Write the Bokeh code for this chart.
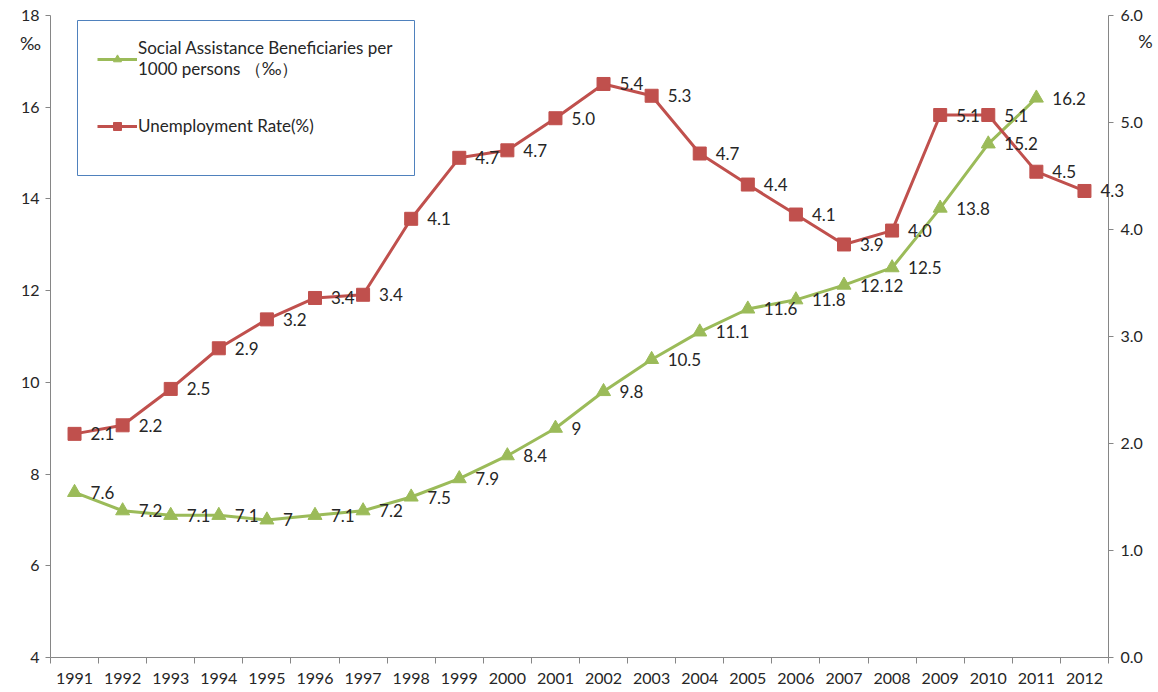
from bokeh.plotting import figure
from bokeh.models import (Range1d, LinearAxis, FixedTicker, Legend, LegendItem, Label, LabelSet,
                          BoxAnnotation, PrintfTickFormatter, ColumnDataSource)
from bokeh.embed import file_html
from bokeh.resources import INLINE
from bokeh.core.properties import value

# ---------------- data ----------------
years = [1991, 1992, 1993, 1994, 1995, 1996, 1997, 1998, 1999, 2000, 2001,
         2002, 2003, 2004, 2005, 2006, 2007, 2008, 2009, 2010, 2011, 2012]
year_labels = [str(y) for y in years]

beneficiary_years = years[:21]
beneficiaries = [7.6, 7.2, 7.1, 7.1, 7.0, 7.1, 7.2, 7.5, 7.9, 8.4, 9.0,
                 9.8, 10.5, 11.1, 11.6, 11.8, 12.12, 12.5, 13.8, 15.2, 16.2]
beneficiary_labels = ["7.6", "7.2", "7.1", "7.1", "7", "7.1", "7.2", "7.5", "7.9", "8.4", "9",
                      "9.8", "10.5", "11.1", "11.6", "11.8", "12.12", "12.5", "13.8", "15.2", "16.2"]

unemployment = [2.09, 2.17, 2.51, 2.89, 3.16, 3.36, 3.39, 4.10, 4.67, 4.74, 5.04,
                5.36, 5.25, 4.71, 4.42, 4.14, 3.86, 3.99, 5.07, 5.07, 4.54, 4.36]
unemployment_labels = ["2.1", "2.2", "2.5", "2.9", "3.2", "3.4", "3.4", "4.1", "4.7", "4.7", "5.0",
                       "5.4", "5.3", "4.7", "4.4", "4.1", "3.9", "4.0", "5.1", "5.1", "4.5", "4.3"]

left_ticks = [4, 6, 8, 10, 12, 14, 16, 18]
right_ticks = [0.0, 1.0, 2.0, 3.0, 4.0, 5.0, 6.0]

# ---------------- layout / style ----------------
W, H = 1158, 692
PL, PR, PT, PB = 50, 50, 15, 35          # plot-area margins in pixels
FONT = "Lato"
FS = "16px"
FS_DATA = "17px"
GREEN = "#9BBB59"
RED = "#C0504D"
AXIS = "#868686"
TXT = "#262626"

x0, x1 = years[0] - 0.5, years[-1] + 0.5
ppx = (W - PL - PR) / (x1 - x0)
yl0, yl1 = left_ticks[0], left_ticks[-1]
ppl = (H - PT - PB) / (yl1 - yl0)
yr0, yr1 = right_ticks[0], right_ticks[-1]
ppr = (H - PT - PB) / (yr1 - yr0)

src_g = ColumnDataSource(dict(x=beneficiary_years, y=beneficiaries, t=beneficiary_labels))
src_r = ColumnDataSource(dict(x=years, y=unemployment, t=unemployment_labels))

# the frame covers the whole canvas; axes are drawn at fixed locations
p = figure(width=W, height=H, output_backend="svg", toolbar_location=None,
           x_range=Range1d(x0 - PL / ppx, x1 + PR / ppx),
           y_range=Range1d(yl0 - PB / ppl, yl1 + PT / ppl),
           min_border=0)
p.extra_y_ranges = {"right": Range1d(yr0 - PB / ppr, yr1 + PT / ppr)}
p.xgrid.visible = False
p.ygrid.visible = False
p.outline_line_color = None
p.background_fill_color = "white"
p.border_fill_color = "white"

xa = p.xaxis[0]
xa.fixed_location = yl0
xa.bounds = (x0, x1)
xa.ticker = FixedTicker(ticks=years, minor_ticks=[y - 0.5 for y in years] + [years[-1] + 0.5])
xa.major_label_overrides = {y: s for y, s in zip(years, year_labels)}
xa.major_tick_out = 0
xa.major_tick_in = 0
xa.minor_tick_out = 6
xa.minor_tick_in = 0
xa.major_label_standoff = 9

ya = p.yaxis[0]
ya.fixed_location = x0
ya.bounds = (yl0, yl1)
ya.ticker = FixedTicker(ticks=left_ticks, minor_ticks=[])
ya.major_tick_out = 5
ya.major_tick_in = 0
ya.major_label_standoff = 6

yr = LinearAxis(y_range_name="right", ticker=FixedTicker(ticks=right_ticks, minor_ticks=[]),
                formatter=PrintfTickFormatter(format="%.1f"))
yr.fixed_location = x1
yr.bounds = (yr0, yr1)
yr.major_tick_out = 5
yr.major_tick_in = 0
yr.major_label_standoff = 7
p.add_layout(yr, "right")

for ax in [xa, ya, yr]:
    ax.axis_line_color = AXIS
    ax.major_tick_line_color = AXIS
    ax.minor_tick_line_color = AXIS
    ax.major_label_text_font = FONT
    ax.major_label_text_font_size = FS
    ax.major_label_text_color = TXT

# series
g_line = p.line("x", "y", source=src_g, line_color=GREEN, line_width=3)
g_pts = p.scatter("x", "y", source=src_g, marker="triangle", size=14,
                  fill_color=GREEN, line_color=GREEN)
r_line = p.line("x", "y", source=src_r, line_color=RED, line_width=3, y_range_name="right")
r_pts = p.scatter("x", "y", source=src_r, marker="square", size=13,
                  fill_color=RED, line_color=RED, y_range_name="right")

# data labels
p.add_layout(LabelSet(x="x", y="y", text="t", source=src_g, x_offset=16, text_align="left",
                      text_baseline="middle", text_font=value(FONT), text_font_size=value(FS_DATA),
                      text_color=TXT))
p.add_layout(LabelSet(x="x", y="y", text="t", source=src_r, x_offset=16, text_align="left",
                      text_baseline="middle", text_font=value(FONT), text_font_size=value(FS_DATA),
                      text_color=TXT, y_range_name="right"))

# unit labels
p.add_layout(Label(x=x0 - 20 / ppx, y=yl1 - 27 / ppl, text="‰", text_font=FONT, text_font_size="18px",
                   text_color=TXT, text_align="center", text_baseline="middle"))
p.add_layout(Label(x=x1 + 37 / ppx, y=yr1 - 25 / ppr, y_range_name="right", text="%", text_font=FONT,
                   text_font_size="18px", text_color=TXT, text_align="center", text_baseline="middle"))

# legend frame
p.add_layout(BoxAnnotation(left=x0 + 27 / ppx, right=x0 + 364 / ppx,
                           top=yl1 - 5 / ppl, bottom=yl1 - 160 / ppl,
                           fill_alpha=0, line_color="#4F81BD", line_width=1, line_alpha=1))

legend = Legend(items=[
    LegendItem(label="Social Assistance Beneficiaries per\n1000 persons （‰）", renderers=[g_line, g_pts]),
    LegendItem(label="Unemployment Rate(%)", renderers=[r_line, r_pts]),
], location=(97, 556), border_line_alpha=0, background_fill_alpha=0,
    label_text_font=FONT, label_text_font_size="17px", label_text_color=TXT,
    glyph_width=40, glyph_height=20, label_standoff=1, spacing=34, padding=0, margin=0)
p.add_layout(legend)

open("out.html", "w").write(file_html(p, INLINE))
